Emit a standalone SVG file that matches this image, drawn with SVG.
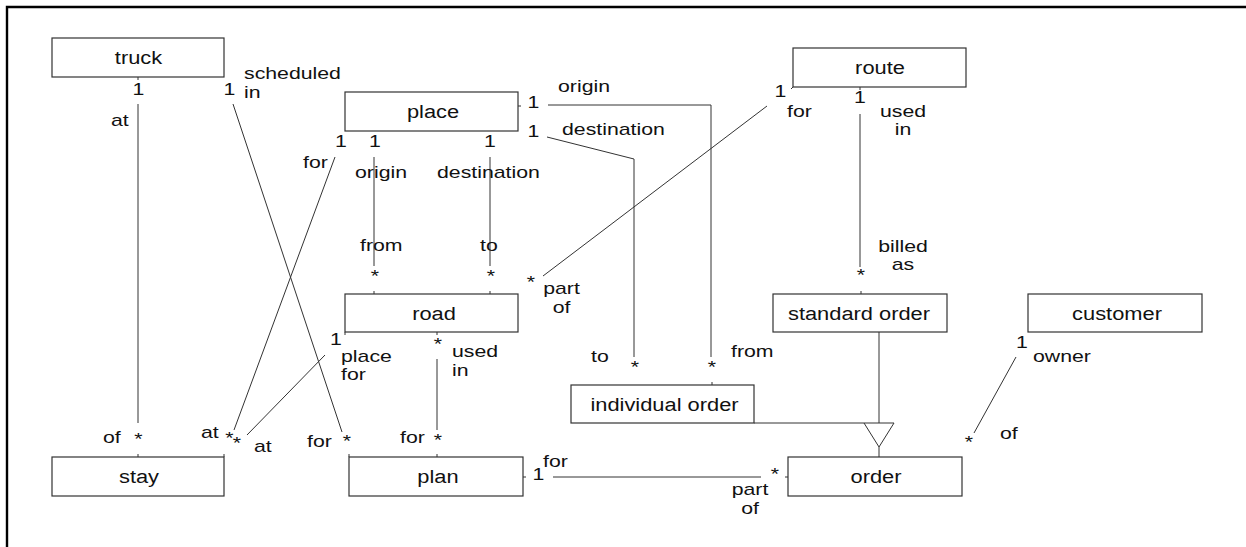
<svg xmlns="http://www.w3.org/2000/svg" width="1246" height="547" viewBox="0 0 1246 547">
  <style>
    .box { fill: #fff; stroke: #333; stroke-width: 1.2; }
    .n { font-family: "Liberation Sans", Arial, sans-serif; font-size: 19px; fill: #111; text-anchor: middle; }
    .e { font-family: "Liberation Sans", Arial, sans-serif; font-size: 16px; fill: #111; }
    .c { text-anchor: middle; }
    .ln { fill: none; stroke: #333; stroke-width: 1; }
  </style>
  <rect width="1246" height="547" fill="#fff"/>
  <!-- page frame (top and left edges only) -->
  <path d="M7,547 V7 H1246" fill="none" stroke="#000" stroke-width="2.4"/>

  <!-- classes; labels are set in a widened face -->
  <g id="truck"><rect class="box" x="52" y="38" width="172" height="39"/><text class="n" transform="translate(138.5 63.5) scale(1.15 1)">truck</text></g>
  <g id="place"><rect class="box" x="345" y="92" width="173" height="39"/><text class="n" transform="translate(433 117.5) scale(1.15 1)">place</text></g>
  <g id="route"><rect class="box" x="793" y="48" width="173" height="39"/><text class="n" transform="translate(880 73.5) scale(1.15 1)">route</text></g>
  <g id="road"><rect class="box" x="345" y="294" width="173" height="38"/><text class="n" transform="translate(434 319.5) scale(1.15 1)">road</text></g>
  <g id="standard-order"><rect class="box" x="773" y="294" width="174" height="38"/><text class="n" transform="translate(859 319.5) scale(1.15 1)">standard order</text></g>
  <g id="customer"><rect class="box" x="1028" y="294" width="174" height="38"/><text class="n" transform="translate(1117 319.5) scale(1.15 1)">customer</text></g>
  <g id="individual-order"><rect class="box" x="571" y="385" width="183" height="38"/><text class="n" transform="translate(664.5 410.5) scale(1.15 1)">individual order</text></g>
  <g id="stay"><rect class="box" x="52" y="457" width="172" height="39"/><text class="n" transform="translate(139 482.5) scale(1.15 1)">stay</text></g>
  <g id="plan"><rect class="box" x="349" y="457" width="174" height="39"/><text class="n" transform="translate(438 482.5) scale(1.15 1)">plan</text></g>
  <g id="order"><rect class="box" x="788" y="457" width="174" height="39"/><text class="n" transform="translate(876 482.5) scale(1.15 1)">order</text></g>

  <!-- associations -->
  <g id="connectors">
    <!-- attachment ticks -->
    <path class="ln" d="M138,77 V80 M138,454 V457 M349,454 V457 M224,454 V457 M374,291 V294 M490,291 V294 M712,382 V385 M861,291 V294 M860,87 V90 M437,332 V335 M437,454 V457 M518,106 H521 M523,477 H526 M785,477 H788 M345,332 V335 M793,87 L791,89"/>

    <!-- truck at / stay of -->
    <line class="ln" x1="138" y1="104" x2="138" y2="423"/>
    <text class="e c" transform="translate(138.5 94.5) scale(1.33 1)">1</text>
    <text class="e" transform="translate(111 126) scale(1.33 1)">at</text>
    <text class="e c" transform="translate(138.5 444.5) scale(1.33 1)">*</text>
    <text class="e" transform="translate(103 443) scale(1.33 1)">of</text>

    <!-- truck scheduled in / plan for -->
    <line class="ln" x1="233" y1="104" x2="342" y2="432"/>
    <text class="e c" transform="translate(229.5 94.5) scale(1.33 1)">1</text>
    <text class="e" transform="translate(244 79) scale(1.33 1)">scheduled</text>
    <text class="e" transform="translate(244 98) scale(1.33 1)">in</text>
    <text class="e c" transform="translate(347 446.5) scale(1.33 1)">*</text>
    <text class="e" transform="translate(307 447) scale(1.33 1)">for</text>

    <!-- place for / stay at -->
    <line class="ln" x1="335" y1="157" x2="234" y2="430"/>
    <text class="e c" transform="translate(341 147) scale(1.33 1)">1</text>
    <text class="e" transform="translate(303 168) scale(1.33 1)">for</text>
    <text class="e c" transform="translate(229.5 444) scale(1.33 1)">*</text>
    <text class="e" transform="translate(201 438) scale(1.33 1)">at</text>

    <!-- road place for / stay at -->
    <line class="ln" x1="325" y1="355" x2="247" y2="435"/>
    <text class="e c" transform="translate(336 345) scale(1.33 1)">1</text>
    <text class="e" transform="translate(341 362) scale(1.33 1)">place</text>
    <text class="e" transform="translate(341 380) scale(1.33 1)">for</text>
    <text class="e c" transform="translate(237 449) scale(1.33 1)">*</text>
    <text class="e" transform="translate(254 452) scale(1.33 1)">at</text>

    <!-- place origin / road from -->
    <line class="ln" x1="374" y1="157" x2="374" y2="266"/>
    <text class="e c" transform="translate(375 147) scale(1.33 1)">1</text>
    <text class="e" transform="translate(355 178) scale(1.33 1)">origin</text>
    <text class="e" transform="translate(360 251) scale(1.33 1)">from</text>
    <text class="e c" transform="translate(375 281.5) scale(1.33 1)">*</text>

    <!-- place destination / road to -->
    <line class="ln" x1="490" y1="157" x2="490" y2="266"/>
    <text class="e c" transform="translate(490 147) scale(1.33 1)">1</text>
    <text class="e" transform="translate(437 178) scale(1.33 1)">destination</text>
    <text class="e" transform="translate(480 251) scale(1.33 1)">to</text>
    <text class="e c" transform="translate(491 281.5) scale(1.33 1)">*</text>

    <!-- place origin / individual order from -->
    <polyline class="ln" points="548,105 711,105 711,357"/>
    <text class="e c" transform="translate(533.5 108) scale(1.33 1)">1</text>
    <text class="e" transform="translate(558 92) scale(1.33 1)">origin</text>
    <text class="e c" transform="translate(712 372.5) scale(1.33 1)">*</text>
    <text class="e" transform="translate(731 357) scale(1.33 1)">from</text>

    <!-- place destination / individual order to -->
    <polyline class="ln" points="547,137 634,159 634,357"/>
    <text class="e c" transform="translate(533.5 137) scale(1.33 1)">1</text>
    <text class="e" transform="translate(562 135) scale(1.33 1)">destination</text>
    <text class="e c" transform="translate(635 372.5) scale(1.33 1)">*</text>
    <text class="e" transform="translate(591 361.5) scale(1.33 1)">to</text>

    <!-- route for / road part of -->
    <line class="ln" x1="767" y1="106" x2="543" y2="276"/>
    <text class="e c" transform="translate(780.5 97) scale(1.33 1)">1</text>
    <text class="e" transform="translate(787 117) scale(1.33 1)">for</text>
    <text class="e c" transform="translate(531 287.5) scale(1.33 1)">*</text>
    <text class="e c" transform="translate(561.5 294) scale(1.33 1)">part</text>
    <text class="e c" transform="translate(561.5 313) scale(1.33 1)">of</text>

    <!-- route used in / standard order billed as -->
    <line class="ln" x1="860" y1="114" x2="860" y2="267"/>
    <text class="e c" transform="translate(860 103) scale(1.33 1)">1</text>
    <text class="e c" transform="translate(903 117) scale(1.33 1)">used</text>
    <text class="e c" transform="translate(903 135) scale(1.33 1)">in</text>
    <text class="e c" transform="translate(903 252) scale(1.33 1)">billed</text>
    <text class="e c" transform="translate(903 270) scale(1.33 1)">as</text>
    <text class="e c" transform="translate(861 280.5) scale(1.33 1)">*</text>

    <!-- road used in / plan for -->
    <line class="ln" x1="437" y1="359" x2="437" y2="430"/>
    <text class="e c" transform="translate(438 349.5) scale(1.33 1)">*</text>
    <text class="e" transform="translate(452 356.5) scale(1.33 1)">used</text>
    <text class="e" transform="translate(452 375.5) scale(1.33 1)">in</text>
    <text class="e" transform="translate(400 443) scale(1.33 1)">for</text>
    <text class="e c" transform="translate(438 445.5) scale(1.33 1)">*</text>

    <!-- plan for / order part of -->
    <line class="ln" x1="553" y1="477" x2="761" y2="477"/>
    <text class="e c" transform="translate(538.5 480) scale(1.33 1)">1</text>
    <text class="e" transform="translate(543 466.5) scale(1.33 1)">for</text>
    <text class="e c" transform="translate(775 479.5) scale(1.33 1)">*</text>
    <text class="e c" transform="translate(750 495) scale(1.33 1)">part</text>
    <text class="e c" transform="translate(750 514) scale(1.33 1)">of</text>

    <!-- generalization: individual order and standard order are kinds of order -->
    <path class="ln" d="M754,423 H864 M879,332 V423 M879,447 V457"/>
    <polygon class="ln" points="864,423 894,423 879,447"/>

    <!-- customer owner / order of -->
    <line class="ln" x1="1016" y1="357" x2="974" y2="433"/>
    <text class="e c" transform="translate(1022 348) scale(1.33 1)">1</text>
    <text class="e" transform="translate(1033 361.5) scale(1.33 1)">owner</text>
    <text class="e c" transform="translate(969 447.5) scale(1.33 1)">*</text>
    <text class="e" transform="translate(1000 439) scale(1.33 1)">of</text>
  </g>
</svg>
